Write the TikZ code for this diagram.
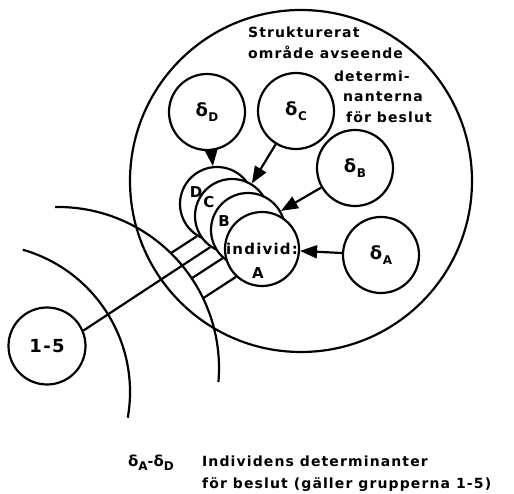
\documentclass[tikz,border=0pt]{standalone}
\usepackage{fontspec}
\setmainfont{DejaVu Sans}[LetterSpace=8]
\usetikzlibrary{arrows.meta,intersections}
\newcommand{\dsub}[1]{δ\kern0.5pt\raisebox{-0.3em}{\fontsize{12}{12}\selectfont #1}}
\newcommand{\dleg}[1]{{\fontsize{15}{15}\selectfont δ}\raisebox{-0.25em}{\fontsize{12}{12}\selectfont #1}}
\begin{document}
\begin{tikzpicture}[x=1pt,y=1pt,line width=2.2pt,
  circ/.style={circle,draw,inner sep=0pt,minimum size=76pt,font=\fontsize{18}{18}\selectfont\bfseries},
  stack/.style={circle,draw,fill=white,inner sep=0pt,minimum size=74pt},
  arr/.style={-{Triangle[length=17pt,width=13pt]}},
  txt/.style={font=\fontsize{14}{16}\selectfont\bfseries,inner sep=0pt},
  lbl/.style={font=\fontsize{15}{16}\selectfont\bfseries,inner sep=0pt}]
\useasboundingbox (0,0) rectangle (514,494);
% big structured area and outer arcs
\node[circle,draw,inner sep=0pt,minimum size=342pt] (big) at (301,313) {};
\draw (-18,102) ++(74:148pt) arc[start angle=74,end angle=-10,radius=148pt];
\draw[name path=arctwo] (58,126) ++(91:161pt) arc[start angle=91,end angle=-5,radius=161pt];
% determinant circles
\node[circ] (dD) at (207,382) {\dsub{D}};
\node[circ] (dC) at (296,383) {\dsub{C}};
\node[circ] (dB) at (355,326) {\dsub{B}};
\node[circ] (dA) at (381,239) {\dsub{A}};
\node[circ,minimum size=77pt] (n15) at (47,148) {1-5};
% stacked individual circles
\node[stack] (D) at (217,290) {};
\node[stack] (C) at (232,278) {};
\node[stack] (B) at (248,264) {};
\node[stack] (A) at (262,245) {};
\node[lbl] (lD) at (196,302) {D};
\node[lbl] (lC) at (209,292) {C};
\node[lbl] (lB) at (224,273) {B};
\node[lbl] (lI) at (262,245) {individ:};
\node[lbl] (lA) at (258,221) {A};
% connectors to the inner arc
\path[name path=pD] (D.238) -- ++(213:90pt);
\path[name path=pB] (B.228) -- ++(213:90pt);
\path[name path=pA] (A.227) -- ++(213:90pt);
\path[name intersections={of=pD and arctwo,by=eD}];
\path[name intersections={of=pB and arctwo,by=eB}];
\path[name intersections={of=pA and arctwo,by=eA}];
\draw (D.238) -- (eD);
\draw (B.228) -- (eB);
\draw (A.227) -- (eA);
\draw (C.235) -- (n15.23);
% arrows
\draw[arr] (dD) -- (D);
\draw[arr] (dC) -- (C);
\draw[arr] (dB) -- (B);
\draw[arr] (dA) -- (A);
% texts in big circle
\node[txt,anchor=base west] (t1) at (247,456) {Strukturerat};
\node[txt,anchor=base west] (t2) at (247,435) {område avseende};
\node[txt,anchor=base west] (t3) at (333,412) {determi-};
\node[txt,anchor=base west] (t4) at (342,392) {nanterna};
\node[txt,anchor=base west] (t5) at (345,371) {för beslut};
% legend
\node[txt,anchor=base west] (g0) at (127,27) {\dleg{A}-\dleg{D}};
\node[txt,anchor=base west] (g1) at (201,27) {Individens determinanter};
\node[txt,anchor=base west] (g2) at (201,5) {för beslut (gäller grupperna 1-5)};
\end{tikzpicture}
\end{document}
